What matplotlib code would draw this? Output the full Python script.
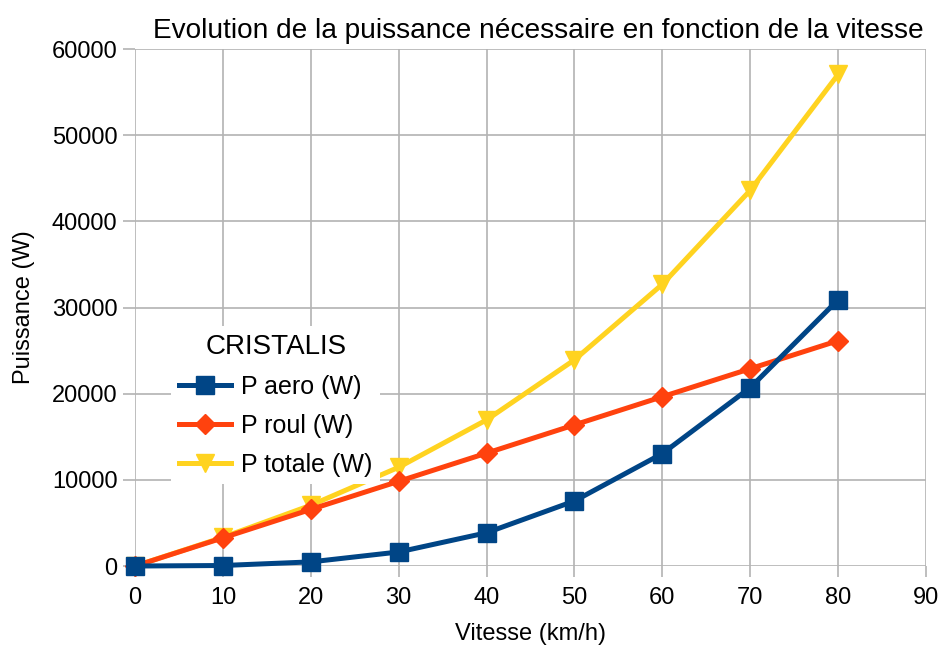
import numpy as np
import matplotlib.pyplot as plt

plt.rcParams['font.family'] = ['Liberation Sans', 'DejaVu Sans']

vitesse = [0, 10, 20, 30, 40, 50, 60, 70, 80]
p_aero = [0, 60, 480, 1630, 3860, 7550, 13050, 20700, 30900]
p_roul = [0, 3270, 6570, 9830, 13100, 16380, 19650, 22900, 26150]
p_totale = [0, 3330, 7050, 11460, 16960, 23930, 32700, 43600, 57050]

fig = plt.figure(figsize=(9.43, 6.5), dpi=100)
ax = fig.add_axes([0.1432, 0.1292, 0.8388, 0.7954])

ax.plot(vitesse, p_aero, color='#004586', lw=3.6, marker='s', ms=13, label='P aero (W)', zorder=4, clip_on=False)
ax.plot(vitesse, p_roul, color='#ff420e', lw=3.6, marker='D', ms=10, label='P roul (W)', zorder=3, clip_on=False)
ax.plot(vitesse, p_totale, color='#ffd320', lw=3.6, marker='v', ms=13, label='P totale (W)', zorder=2, clip_on=False)

ax.set_xlim(0, 90)
ax.set_ylim(0, 60000)
ax.set_xticks(np.arange(0, 91, 10))
ax.set_yticks(np.arange(0, 60001, 10000))
ax.grid(True, color='#b3b3b3', lw=1.2)
ax.set_axisbelow(True)
for s in ax.spines.values():
    s.set_visible(False)
ax.tick_params(colors='#b3b3b3', width=1.2, labelcolor='black', labelsize=17)
ax.tick_params(axis='x', length=8, pad=7)
ax.tick_params(axis='y', length=8.6, pad=4)

ax.set_xlabel('Vitesse (km/h)', fontsize=17, labelpad=10)
ax.set_ylabel('Puissance (W)', fontsize=17, labelpad=12)
ax.set_title('Evolution de la puissance nécessaire en fonction de la vitesse', fontsize=20.2, pad=8, x=0.51)

leg = ax.legend(title='CRISTALIS', loc='upper left', bbox_to_anchor=(0.03, 0.488),
                fontsize=18, title_fontsize=20, frameon=True, fancybox=False,
                handlelength=2.1, labelspacing=0.6, borderpad=0.3, handletextpad=0.4)
leg.get_frame().set_edgecolor('none')
leg.get_frame().set_facecolor('white')
leg.get_frame().set_alpha(1)
leg.set_zorder(5)

fig.savefig('out.png', dpi=100)
